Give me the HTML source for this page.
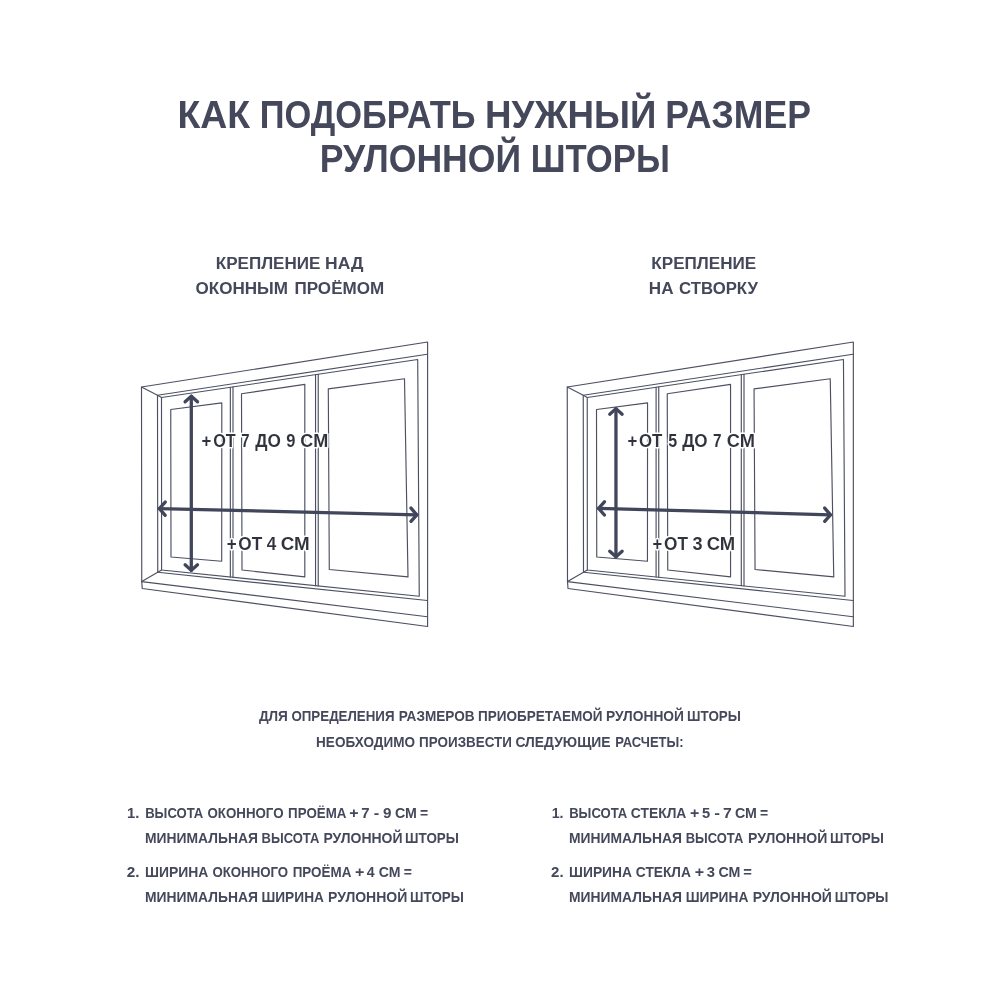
<!DOCTYPE html>
<html lang="ru"><head><meta charset="utf-8"><title>Как подобрать нужный размер рулонной шторы</title>
<style>
html,body{margin:0;padding:0;background:#fff;}
body{width:1000px;height:1000px;overflow:hidden;}
svg{display:block;font-family:"Liberation Sans",sans-serif;font-weight:bold;will-change:transform;}
</style></head><body>
<svg width="1000" height="1000" viewBox="0 0 1000 1000">
<rect width="1000" height="1000" fill="#ffffff"/>
<text x="177.50" y="127.50" font-size="38" textLength="72.70" lengthAdjust="spacingAndGlyphs" fill="#44485a">КАК</text><text x="259.65" y="127.50" font-size="38" textLength="215.95" lengthAdjust="spacingAndGlyphs" fill="#44485a">ПОДОБРАТЬ</text><text x="485.04" y="127.50" font-size="38" textLength="171.41" lengthAdjust="spacingAndGlyphs" fill="#44485a">НУЖНЫЙ</text><text x="665.17" y="127.50" font-size="38" textLength="145.77" lengthAdjust="spacingAndGlyphs" fill="#44485a">РАЗМЕР</text>
<text x="319.64" y="171.60" font-size="38" textLength="201.47" lengthAdjust="spacingAndGlyphs" fill="#44485a">РУЛОННОЙ</text><text x="530.80" y="171.60" font-size="38" textLength="139.00" lengthAdjust="spacingAndGlyphs" fill="#44485a">ШТОРЫ</text>
<text x="215.76" y="269.40" font-size="17.4" textLength="104.66" lengthAdjust="spacingAndGlyphs" fill="#44485a">КРЕПЛЕНИЕ</text><text x="325.06" y="269.40" font-size="17.4" textLength="38.36" lengthAdjust="spacingAndGlyphs" fill="#44485a">НАД</text>
<text x="195.55" y="294.40" font-size="17.4" textLength="92.49" lengthAdjust="spacingAndGlyphs" fill="#44485a">ОКОННЫМ</text><text x="294.46" y="294.40" font-size="17.4" textLength="89.78" lengthAdjust="spacingAndGlyphs" fill="#44485a">ПРОЁМОМ</text>
<text x="651.36" y="269.40" font-size="17.4" textLength="104.91" lengthAdjust="spacingAndGlyphs" fill="#44485a">КРЕПЛЕНИЕ</text>
<text x="648.86" y="294.40" font-size="17.4" textLength="24.69" lengthAdjust="spacingAndGlyphs" fill="#44485a">НА</text><text x="679.07" y="294.40" font-size="17.4" textLength="78.88" lengthAdjust="spacingAndGlyphs" fill="#44485a">СТВОРКУ</text>
<g fill="none" stroke="#4c5062" stroke-width="1.15" stroke-linejoin="round" stroke-linecap="round"><polyline points="142.25,588.50 141.75,581.60 141.50,387.00 427.60,342.00 427.60,626.50 142.25,588.50"/><polyline points="141.75,581.60 427.30,616.75"/><polyline points="427.20,354.25 157.50,395.25 157.75,572.25 427.30,600.50"/><polyline points="141.50,387.00 157.50,395.25 161.50,397.50"/><polyline points="141.75,581.60 157.75,572.25 161.60,570.00"/><polyline points="161.60,570.00 161.50,397.50 417.70,359.50 419.25,596.25 161.60,570.00"/><polyline points="230.35,387.29 230.35,577.00"/><polyline points="233.00,386.90 233.00,577.27"/><polyline points="315.55,374.65 315.55,585.68"/><polyline points="318.25,374.25 318.25,585.96"/><polyline points="170.75,409.50 221.80,402.90 221.70,561.20 171.00,557.00 170.75,409.50"/><polyline points="241.50,393.70 304.80,384.40 304.80,576.90 242.00,570.00 241.50,393.70"/><polyline points="328.30,388.90 404.50,378.80 408.00,576.90 329.30,569.50 328.30,388.90"/></g><g fill="none" stroke="#42465a" stroke-width="3.3" stroke-linecap="round" stroke-linejoin="round"><path d="M191.30,396.20 L191.30,570.40"/><path d="M185.10,401.80 L191.30,396.20 L197.50,401.80"/><path d="M185.10,564.80 L191.30,570.40 L197.50,564.80"/><path d="M159.40,508.60 L416.80,514.80"/><path d="M165.20,502.10 L159.40,508.60 L165.20,515.30"/><path d="M411.00,508.10 L416.80,514.80 L411.00,521.30"/></g>
<g fill="none" stroke="#4c5062" stroke-width="1.15" stroke-linejoin="round" stroke-linecap="round"><polyline points="568.00,588.50 567.50,581.60 567.25,387.00 853.35,342.00 853.35,626.50 568.00,588.50"/><polyline points="567.50,581.60 853.05,616.75"/><polyline points="852.95,354.25 583.25,395.25 583.50,572.25 853.05,600.50"/><polyline points="567.25,387.00 583.25,395.25 587.25,397.50"/><polyline points="567.50,581.60 583.50,572.25 587.35,570.00"/><polyline points="587.35,570.00 587.25,397.50 843.45,359.50 845.00,596.25 587.35,570.00"/><polyline points="656.10,387.29 656.10,577.00"/><polyline points="658.75,386.90 658.75,577.27"/><polyline points="741.30,374.65 741.30,585.68"/><polyline points="744.00,374.25 744.00,585.96"/><polyline points="596.50,409.50 647.55,402.90 647.45,561.20 596.75,557.00 596.50,409.50"/><polyline points="667.25,393.70 730.55,384.40 730.55,576.90 667.75,570.00 667.25,393.70"/><polyline points="754.05,388.90 830.25,378.80 833.75,576.90 755.05,569.50 754.05,388.90"/></g><g fill="none" stroke="#42465a" stroke-width="3.3" stroke-linecap="round" stroke-linejoin="round"><path d="M615.95,408.60 L615.95,556.80"/><path d="M609.75,414.20 L615.95,408.60 L622.15,414.20"/><path d="M609.75,551.20 L615.95,556.80 L622.15,551.20"/><path d="M598.60,508.30 L830.50,514.80"/><path d="M604.40,501.80 L598.60,508.30 L604.40,515.00"/><path d="M824.70,508.10 L830.50,514.80 L824.70,521.30"/></g>
<text x="201.60" y="447.40" font-size="18.2" textLength="9.78" lengthAdjust="spacingAndGlyphs" fill="#fff" stroke="#fff" stroke-width="3.0" stroke-linejoin="round">+</text><text x="213.23" y="447.40" font-size="18.2" textLength="22.54" lengthAdjust="spacingAndGlyphs" fill="#fff" stroke="#fff" stroke-width="3.0" stroke-linejoin="round">ОТ</text><text x="241.26" y="447.40" font-size="18.2" textLength="8.30" lengthAdjust="spacingAndGlyphs" fill="#fff" stroke="#fff" stroke-width="3.0" stroke-linejoin="round">7</text><text x="255.35" y="447.40" font-size="18.2" textLength="25.57" lengthAdjust="spacingAndGlyphs" fill="#fff" stroke="#fff" stroke-width="3.0" stroke-linejoin="round">ДО</text><text x="286.13" y="447.40" font-size="18.2" textLength="9.19" lengthAdjust="spacingAndGlyphs" fill="#fff" stroke="#fff" stroke-width="3.0" stroke-linejoin="round">9</text><text x="300.37" y="447.40" font-size="18.2" textLength="27.83" lengthAdjust="spacingAndGlyphs" fill="#fff" stroke="#fff" stroke-width="3.0" stroke-linejoin="round">СМ</text><text x="201.60" y="447.40" font-size="18.2" textLength="9.78" lengthAdjust="spacingAndGlyphs" fill="#30323d" stroke="#fff" stroke-width="0.05">+</text><text x="213.23" y="447.40" font-size="18.2" textLength="22.54" lengthAdjust="spacingAndGlyphs" fill="#30323d" stroke="#fff" stroke-width="0.05">ОТ</text><text x="241.26" y="447.40" font-size="18.2" textLength="8.30" lengthAdjust="spacingAndGlyphs" fill="#30323d" stroke="#fff" stroke-width="0.05">7</text><text x="255.35" y="447.40" font-size="18.2" textLength="25.57" lengthAdjust="spacingAndGlyphs" fill="#30323d" stroke="#fff" stroke-width="0.05">ДО</text><text x="286.13" y="447.40" font-size="18.2" textLength="9.19" lengthAdjust="spacingAndGlyphs" fill="#30323d" stroke="#fff" stroke-width="0.05">9</text><text x="300.37" y="447.40" font-size="18.2" textLength="27.83" lengthAdjust="spacingAndGlyphs" fill="#30323d" stroke="#fff" stroke-width="0.05">СМ</text>
<text x="226.79" y="549.50" font-size="18.2" textLength="9.90" lengthAdjust="spacingAndGlyphs" fill="#fff" stroke="#fff" stroke-width="3.0" stroke-linejoin="round">+</text><text x="238.29" y="549.50" font-size="18.2" textLength="23.89" lengthAdjust="spacingAndGlyphs" fill="#fff" stroke="#fff" stroke-width="3.0" stroke-linejoin="round">ОТ</text><text x="266.74" y="549.50" font-size="18.2" textLength="9.55" lengthAdjust="spacingAndGlyphs" fill="#fff" stroke="#fff" stroke-width="3.0" stroke-linejoin="round">4</text><text x="280.73" y="549.50" font-size="18.2" textLength="29.01" lengthAdjust="spacingAndGlyphs" fill="#fff" stroke="#fff" stroke-width="3.0" stroke-linejoin="round">СМ</text><text x="226.79" y="549.50" font-size="18.2" textLength="9.90" lengthAdjust="spacingAndGlyphs" fill="#30323d" stroke="#fff" stroke-width="0.05">+</text><text x="238.29" y="549.50" font-size="18.2" textLength="23.89" lengthAdjust="spacingAndGlyphs" fill="#30323d" stroke="#fff" stroke-width="0.05">ОТ</text><text x="266.74" y="549.50" font-size="18.2" textLength="9.55" lengthAdjust="spacingAndGlyphs" fill="#30323d" stroke="#fff" stroke-width="0.05">4</text><text x="280.73" y="549.50" font-size="18.2" textLength="29.01" lengthAdjust="spacingAndGlyphs" fill="#30323d" stroke="#fff" stroke-width="0.05">СМ</text>
<text x="627.40" y="447.40" font-size="18.2" textLength="9.78" lengthAdjust="spacingAndGlyphs" fill="#fff" stroke="#fff" stroke-width="3.0" stroke-linejoin="round">+</text><text x="638.91" y="447.40" font-size="18.2" textLength="23.27" lengthAdjust="spacingAndGlyphs" fill="#fff" stroke="#fff" stroke-width="3.0" stroke-linejoin="round">ОТ</text><text x="668.21" y="447.40" font-size="18.2" textLength="8.94" lengthAdjust="spacingAndGlyphs" fill="#fff" stroke="#fff" stroke-width="3.0" stroke-linejoin="round">5</text><text x="682.15" y="447.40" font-size="18.2" textLength="25.36" lengthAdjust="spacingAndGlyphs" fill="#fff" stroke="#fff" stroke-width="3.0" stroke-linejoin="round">ДО</text><text x="712.94" y="447.40" font-size="18.2" textLength="8.53" lengthAdjust="spacingAndGlyphs" fill="#fff" stroke="#fff" stroke-width="3.0" stroke-linejoin="round">7</text><text x="726.86" y="447.40" font-size="18.2" textLength="28.15" lengthAdjust="spacingAndGlyphs" fill="#fff" stroke="#fff" stroke-width="3.0" stroke-linejoin="round">СМ</text><text x="627.40" y="447.40" font-size="18.2" textLength="9.78" lengthAdjust="spacingAndGlyphs" fill="#30323d" stroke="#fff" stroke-width="0.05">+</text><text x="638.91" y="447.40" font-size="18.2" textLength="23.27" lengthAdjust="spacingAndGlyphs" fill="#30323d" stroke="#fff" stroke-width="0.05">ОТ</text><text x="668.21" y="447.40" font-size="18.2" textLength="8.94" lengthAdjust="spacingAndGlyphs" fill="#30323d" stroke="#fff" stroke-width="0.05">5</text><text x="682.15" y="447.40" font-size="18.2" textLength="25.36" lengthAdjust="spacingAndGlyphs" fill="#30323d" stroke="#fff" stroke-width="0.05">ДО</text><text x="712.94" y="447.40" font-size="18.2" textLength="8.53" lengthAdjust="spacingAndGlyphs" fill="#30323d" stroke="#fff" stroke-width="0.05">7</text><text x="726.86" y="447.40" font-size="18.2" textLength="28.15" lengthAdjust="spacingAndGlyphs" fill="#30323d" stroke="#fff" stroke-width="0.05">СМ</text>
<text x="652.50" y="549.50" font-size="18.2" textLength="9.67" lengthAdjust="spacingAndGlyphs" fill="#fff" stroke="#fff" stroke-width="3.0" stroke-linejoin="round">+</text><text x="664.09" y="549.50" font-size="18.2" textLength="23.89" lengthAdjust="spacingAndGlyphs" fill="#fff" stroke="#fff" stroke-width="3.0" stroke-linejoin="round">ОТ</text><text x="692.58" y="549.50" font-size="18.2" textLength="10.07" lengthAdjust="spacingAndGlyphs" fill="#fff" stroke="#fff" stroke-width="3.0" stroke-linejoin="round">3</text><text x="706.75" y="549.50" font-size="18.2" textLength="28.48" lengthAdjust="spacingAndGlyphs" fill="#fff" stroke="#fff" stroke-width="3.0" stroke-linejoin="round">СМ</text><text x="652.50" y="549.50" font-size="18.2" textLength="9.67" lengthAdjust="spacingAndGlyphs" fill="#30323d" stroke="#fff" stroke-width="0.05">+</text><text x="664.09" y="549.50" font-size="18.2" textLength="23.89" lengthAdjust="spacingAndGlyphs" fill="#30323d" stroke="#fff" stroke-width="0.05">ОТ</text><text x="692.58" y="549.50" font-size="18.2" textLength="10.07" lengthAdjust="spacingAndGlyphs" fill="#30323d" stroke="#fff" stroke-width="0.05">3</text><text x="706.75" y="549.50" font-size="18.2" textLength="28.48" lengthAdjust="spacingAndGlyphs" fill="#30323d" stroke="#fff" stroke-width="0.05">СМ</text>
<text x="258.88" y="721.40" font-size="14" textLength="29.03" lengthAdjust="spacingAndGlyphs" fill="#44485a">ДЛЯ</text><text x="291.45" y="721.40" font-size="14" textLength="103.04" lengthAdjust="spacingAndGlyphs" fill="#44485a">ОПРЕДЕЛЕНИЯ</text><text x="398.71" y="721.40" font-size="14" textLength="75.90" lengthAdjust="spacingAndGlyphs" fill="#44485a">РАЗМЕРОВ</text><text x="478.10" y="721.40" font-size="14" textLength="124.40" lengthAdjust="spacingAndGlyphs" fill="#44485a">ПРИОБРЕТАЕМОЙ</text><text x="606.09" y="721.40" font-size="14" textLength="77.82" lengthAdjust="spacingAndGlyphs" fill="#44485a">РУЛОННОЙ</text><text x="687.11" y="721.40" font-size="14" textLength="53.78" lengthAdjust="spacingAndGlyphs" fill="#44485a">ШТОРЫ</text>
<text x="316.10" y="746.90" font-size="14" textLength="98.86" lengthAdjust="spacingAndGlyphs" fill="#44485a">НЕОБХОДИМО</text><text x="419.11" y="746.90" font-size="14" textLength="92.79" lengthAdjust="spacingAndGlyphs" fill="#44485a">ПРОИЗВЕСТИ</text><text x="515.43" y="746.90" font-size="14" textLength="95.11" lengthAdjust="spacingAndGlyphs" fill="#44485a">СЛЕДУЮЩИЕ</text><text x="615.15" y="746.90" font-size="14" textLength="68.47" lengthAdjust="spacingAndGlyphs" fill="#44485a">РАСЧЕТЫ:</text>
<text x="127.07" y="818.00" font-size="13.8" textLength="12.35" lengthAdjust="spacingAndGlyphs" fill="#44485a">1.</text><text x="145.14" y="818.00" font-size="13.8" textLength="58.20" lengthAdjust="spacingAndGlyphs" fill="#44485a">ВЫСОТА</text><text x="207.46" y="818.00" font-size="13.8" textLength="76.10" lengthAdjust="spacingAndGlyphs" fill="#44485a">ОКОННОГО</text><text x="288.11" y="818.00" font-size="13.8" textLength="58.24" lengthAdjust="spacingAndGlyphs" fill="#44485a">ПРОЁМА</text><text x="349.33" y="818.00" font-size="13.8" textLength="9.32" lengthAdjust="spacingAndGlyphs" fill="#44485a">+</text><text x="361.36" y="818.00" font-size="13.8" textLength="8.30" lengthAdjust="spacingAndGlyphs" fill="#44485a">7</text><text x="373.75" y="818.00" font-size="13.8" textLength="5.51" lengthAdjust="spacingAndGlyphs" fill="#44485a">-</text><text x="383.07" y="818.00" font-size="13.8" textLength="8.50" lengthAdjust="spacingAndGlyphs" fill="#44485a">9</text><text x="395.02" y="818.00" font-size="13.8" textLength="21.92" lengthAdjust="spacingAndGlyphs" fill="#44485a">СМ</text><text x="420.02" y="818.00" font-size="13.8" textLength="8.15" lengthAdjust="spacingAndGlyphs" fill="#44485a">=</text>
<text x="145.07" y="843.00" font-size="13.8" textLength="112.86" lengthAdjust="spacingAndGlyphs" fill="#44485a">МИНИМАЛЬНАЯ</text><text x="261.55" y="843.00" font-size="13.8" textLength="57.79" lengthAdjust="spacingAndGlyphs" fill="#44485a">ВЫСОТА</text><text x="323.47" y="843.00" font-size="13.8" textLength="79.05" lengthAdjust="spacingAndGlyphs" fill="#44485a">РУЛОННОЙ</text><text x="405.11" y="843.00" font-size="13.8" textLength="53.78" lengthAdjust="spacingAndGlyphs" fill="#44485a">ШТОРЫ</text>
<text x="126.67" y="876.90" font-size="13.8" textLength="12.79" lengthAdjust="spacingAndGlyphs" fill="#44485a">2.</text><text x="145.07" y="876.90" font-size="13.8" textLength="63.30" lengthAdjust="spacingAndGlyphs" fill="#44485a">ШИРИНА</text><text x="212.46" y="876.90" font-size="13.8" textLength="75.70" lengthAdjust="spacingAndGlyphs" fill="#44485a">ОКОННОГО</text><text x="292.71" y="876.90" font-size="13.8" textLength="58.65" lengthAdjust="spacingAndGlyphs" fill="#44485a">ПРОЁМА</text><text x="354.93" y="876.90" font-size="13.8" textLength="9.32" lengthAdjust="spacingAndGlyphs" fill="#44485a">+</text><text x="366.79" y="876.90" font-size="13.8" textLength="7.89" lengthAdjust="spacingAndGlyphs" fill="#44485a">4</text><text x="378.83" y="876.90" font-size="13.8" textLength="21.71" lengthAdjust="spacingAndGlyphs" fill="#44485a">СМ</text><text x="403.82" y="876.90" font-size="13.8" textLength="8.15" lengthAdjust="spacingAndGlyphs" fill="#44485a">=</text>
<text x="145.07" y="902.20" font-size="13.8" textLength="112.86" lengthAdjust="spacingAndGlyphs" fill="#44485a">МИНИМАЛЬНАЯ</text><text x="261.48" y="902.20" font-size="13.8" textLength="62.48" lengthAdjust="spacingAndGlyphs" fill="#44485a">ШИРИНА</text><text x="328.07" y="902.20" font-size="13.8" textLength="79.26" lengthAdjust="spacingAndGlyphs" fill="#44485a">РУЛОННОЙ</text><text x="410.11" y="902.20" font-size="13.8" textLength="53.78" lengthAdjust="spacingAndGlyphs" fill="#44485a">ШТОРЫ</text>
<text x="551.70" y="818.00" font-size="13.8" textLength="11.88" lengthAdjust="spacingAndGlyphs" fill="#44485a">1.</text><text x="569.14" y="818.00" font-size="13.8" textLength="58.20" lengthAdjust="spacingAndGlyphs" fill="#44485a">ВЫСОТА</text><text x="630.84" y="818.00" font-size="13.8" textLength="55.53" lengthAdjust="spacingAndGlyphs" fill="#44485a">СТЕКЛА</text><text x="689.93" y="818.00" font-size="13.8" textLength="9.32" lengthAdjust="spacingAndGlyphs" fill="#44485a">+</text><text x="702.05" y="818.00" font-size="13.8" textLength="8.16" lengthAdjust="spacingAndGlyphs" fill="#44485a">5</text><text x="714.32" y="818.00" font-size="13.8" textLength="5.77" lengthAdjust="spacingAndGlyphs" fill="#44485a">-</text><text x="722.92" y="818.00" font-size="13.8" textLength="8.77" lengthAdjust="spacingAndGlyphs" fill="#44485a">7</text><text x="735.02" y="818.00" font-size="13.8" textLength="21.92" lengthAdjust="spacingAndGlyphs" fill="#44485a">СМ</text><text x="760.02" y="818.00" font-size="13.8" textLength="8.15" lengthAdjust="spacingAndGlyphs" fill="#44485a">=</text>
<text x="569.07" y="843.00" font-size="13.8" textLength="112.86" lengthAdjust="spacingAndGlyphs" fill="#44485a">МИНИМАЛЬНАЯ</text><text x="685.75" y="843.00" font-size="13.8" textLength="57.58" lengthAdjust="spacingAndGlyphs" fill="#44485a">ВЫСОТА</text><text x="748.07" y="843.00" font-size="13.8" textLength="79.26" lengthAdjust="spacingAndGlyphs" fill="#44485a">РУЛОННОЙ</text><text x="830.11" y="843.00" font-size="13.8" textLength="53.78" lengthAdjust="spacingAndGlyphs" fill="#44485a">ШТОРЫ</text>
<text x="551.08" y="876.90" font-size="13.8" textLength="12.56" lengthAdjust="spacingAndGlyphs" fill="#44485a">2.</text><text x="569.08" y="876.90" font-size="13.8" textLength="62.89" lengthAdjust="spacingAndGlyphs" fill="#44485a">ШИРИНА</text><text x="635.84" y="876.90" font-size="13.8" textLength="55.12" lengthAdjust="spacingAndGlyphs" fill="#44485a">СТЕКЛА</text><text x="694.73" y="876.90" font-size="13.8" textLength="9.32" lengthAdjust="spacingAndGlyphs" fill="#44485a">+</text><text x="706.66" y="876.90" font-size="13.8" textLength="8.28" lengthAdjust="spacingAndGlyphs" fill="#44485a">3</text><text x="718.42" y="876.90" font-size="13.8" textLength="21.92" lengthAdjust="spacingAndGlyphs" fill="#44485a">СМ</text><text x="743.39" y="876.90" font-size="13.8" textLength="8.62" lengthAdjust="spacingAndGlyphs" fill="#44485a">=</text>
<text x="569.07" y="902.20" font-size="13.8" textLength="112.86" lengthAdjust="spacingAndGlyphs" fill="#44485a">МИНИМАЛЬНАЯ</text><text x="685.68" y="902.20" font-size="13.8" textLength="62.68" lengthAdjust="spacingAndGlyphs" fill="#44485a">ШИРИНА</text><text x="752.67" y="902.20" font-size="13.8" textLength="79.26" lengthAdjust="spacingAndGlyphs" fill="#44485a">РУЛОННОЙ</text><text x="834.71" y="902.20" font-size="13.8" textLength="53.78" lengthAdjust="spacingAndGlyphs" fill="#44485a">ШТОРЫ</text>
</svg>
</body></html>
